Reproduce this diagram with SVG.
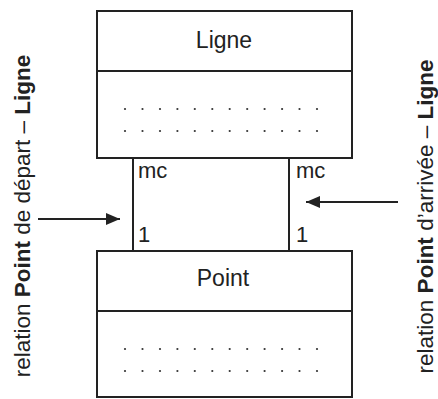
<svg xmlns="http://www.w3.org/2000/svg" width="438" height="399" viewBox="0 0 438 399">
<defs>
<style>
.box{fill:#fff;stroke:#222;stroke-width:2}
.ln{fill:none;stroke:#222;stroke-width:2}
.t{font-family:"Liberation Sans",Arial,sans-serif;fill:#222}
.dot{fill:#333}
.b{font-weight:bold}
</style>
<marker id="ah" viewBox="0 0 14 12" refX="14" refY="6" markerWidth="14" markerHeight="12" markerUnits="userSpaceOnUse" orient="auto">
<path d="M0,0 L14,6 L0,12 Z" fill="#222"/>
</marker>
<g id="dots">
<circle cx="125" cy="0" r="1.1"/><circle cx="142.5" cy="0" r="1.1"/><circle cx="160" cy="0" r="1.1"/><circle cx="177.4" cy="0" r="1.1"/><circle cx="194.8" cy="0" r="1.1"/><circle cx="212.3" cy="0" r="1.1"/><circle cx="229.7" cy="0" r="1.1"/><circle cx="247.2" cy="0" r="1.1"/><circle cx="264.6" cy="0" r="1.1"/><circle cx="282.1" cy="0" r="1.1"/><circle cx="299.5" cy="0" r="1.1"/><circle cx="317" cy="0" r="1.1"/>
</g>
</defs>
<rect width="438" height="399" fill="#fff"/>
<g id="connectors">
<line class="ln" x1="133" y1="158" x2="133" y2="251"/>
<line class="ln" x1="289" y1="158" x2="289" y2="251"/>
<line class="ln" x1="38" y1="219" x2="120" y2="219" marker-end="url(#ah)"/>
<line class="ln" x1="398" y1="202" x2="306" y2="202" marker-end="url(#ah)"/>
<text class="t" x="138" y="178" font-size="22">mc</text>
<text class="t" x="138" y="242" font-size="22">1</text>
<text class="t" x="296" y="178" font-size="22">mc</text>
<text class="t" x="296" y="242" font-size="22">1</text>
</g>
<g id="ligne">
<rect class="box" x="97" y="11" width="255" height="147"/>
<line class="ln" x1="97" y1="71" x2="352" y2="71"/>
<text class="t" x="224" y="48" font-size="23" text-anchor="middle">Ligne</text>
<use href="#dots" y="109" class="dot"/>
<use href="#dots" y="131" class="dot"/>
</g>
<g id="point">
<rect class="box" x="97" y="251" width="255" height="146"/>
<line class="ln" x1="97" y1="311" x2="352" y2="311"/>
<text class="t" x="223" y="286" font-size="23" text-anchor="middle">Point</text>
<use href="#dots" y="349" class="dot"/>
<use href="#dots" y="371" class="dot"/>
</g>
<g id="label-depart">
<text class="t" font-size="22.5" text-anchor="middle" transform="translate(29.5,216) rotate(-90)">relation <tspan class="b">Point</tspan> de départ – <tspan class="b">Ligne</tspan></text>
</g>
<g id="label-arrivee">
<text class="t" font-size="22.5" text-anchor="middle" transform="translate(433,216.5) rotate(-90)">relation <tspan class="b">Point</tspan> d’arrivée – <tspan class="b">Ligne</tspan></text>
</g>
</svg>
